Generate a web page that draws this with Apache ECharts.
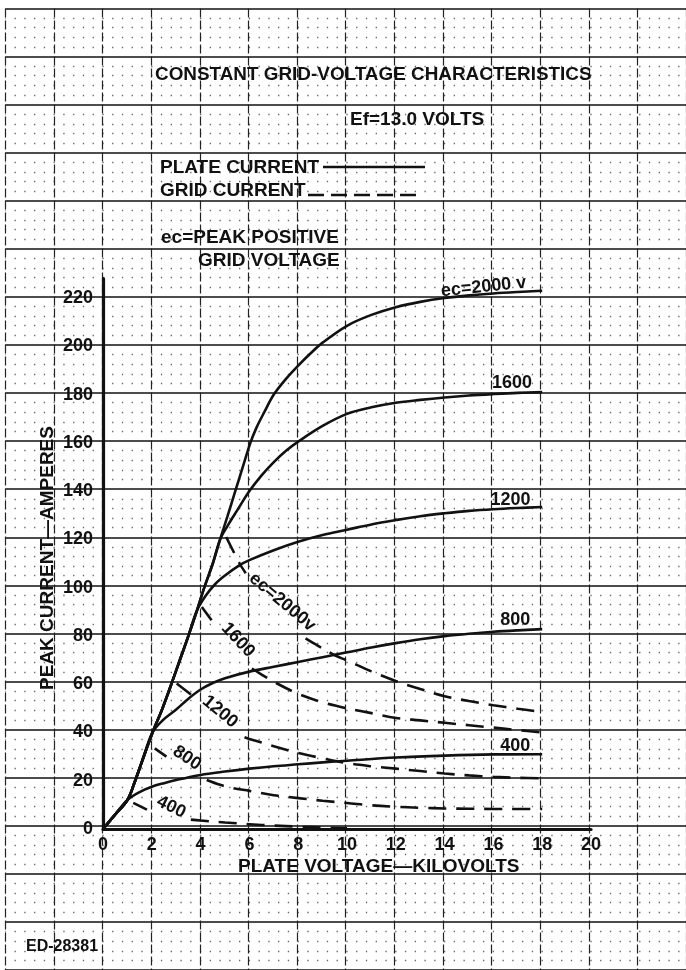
<!DOCTYPE html>
<html>
<head>
<meta charset="utf-8">
<title>Constant grid-voltage characteristics</title>
<script src="https://cdn.jsdelivr.net/npm/echarts@6/dist/echarts.min.js"></script>
<style>
  html, body { margin: 0; padding: 0; background: #fff; }
  #chart { width: 686px; height: 970px; }
</style>
</head>
<body>
<div id="chart"></div>
<script>
// tick labels shown on the two axes
const xTicks = [0, 2, 4, 6, 8, 10, 12, 14, 16, 18, 20];
const yTicks = [0, 20, 40, 60, 80, 100, 120, 140, 160, 180, 200, 220];

// plate current, [kV, A]
const plate400 = [[0,0],[0.5,6],[1,12],[1.5,15.3],[2,17.5],[2.5,19],[3,20.3],[4,22.4],[5,23.8],[6,25],[7,26],[8,26.8],[9,27.6],[10,28.3],[12,29.6],[14,30.4],[16,30.9],[18,31]];
const plate800 = [[0,0],[0.5,6],[1,12],[1.3,19.5],[1.6,28],[2.03,40],[2.5,45.5],[3,49.5],[3.5,54],[4,57.8],[4.5,60.5],[5,62.5],[6,65.2],[7,67.2],[8,69.2],[9,71.2],[10,73.2],[11,75.2],[12,77],[13,78.6],[14,79.9],[15,80.9],[16,81.7],[17,82.3],[18,82.8]];
const plate1200 = [[0,0],[0.5,6],[1,12],[1.3,19.5],[1.6,28],[2.03,40],[2.4,49],[2.8,60],[3.15,70],[3.5,80],[3.85,90.5],[4.2,96.5],[4.6,101.5],[5,105],[5.6,109.3],[6,111.4],[7,115.5],[8,119],[9,121.8],[10,124],[11,126.2],[12,128],[13,129.6],[14,130.8],[15,131.8],[16,132.5],[17,133],[18,133.4]];
const plate1600 = [[0,0],[0.5,6],[1,12],[1.3,19.5],[1.6,28],[2.03,40],[2.4,49],[2.8,60],[3.15,70],[3.5,80],[3.85,90.5],[4.15,100],[4.5,110],[4.8,120],[5.1,125.5],[5.5,132],[6,140],[6.5,146.5],[7,152],[7.5,156.7],[8,160.5],[9,167],[10,172],[11,174.7],[12,176.6],[13,177.8],[14,178.8],[15,179.6],[16,180.2],[17,180.7],[18,181]];
const plate2000 = [[0,0],[0.5,6],[1,12],[1.3,19.5],[1.6,28],[2.03,40],[2.4,49],[2.8,60],[3.15,70],[3.5,80],[3.85,90.5],[4.15,100],[4.5,110],[4.8,120],[5.1,129.5],[5.42,140],[5.73,150],[6.04,160],[6.3,166.5],[6.6,172.5],[7,180],[7.5,186.5],[8,192],[8.5,197],[9,201.5],[10,208.5],[11,213],[12,216.2],[13,218.4],[14,220],[15,221.1],[16,221.9],[17,222.5],[18,223]];

// grid current, null = break in the dashes where the label sits
const grid400 = [[1.24,10.8],[1.8,8],null,[3.6,3.9],[4,3.5],[5,2.7],[6,2],[7,1.4],[8,1],[9,0.6],[10,0.3]];
const grid800 = [[2.12,33.4],[2.6,30],null,[4.25,20.3],[4.8,18.3],[5.3,17],[6,15.8],[7,14],[8,12.8],[9,11.7],[10,10.8],[11,9.8],[12,9.2],[13,8.8],[14,8.5],[15,8.4],[16,8.3],[17,8.3],[18,8.3]];
const grid1200 = [[3.02,60.3],[3.63,55.5],null,[5.8,38],[6,37.3],[6.5,35.8],[7,34.3],[8,31.5],[9,29.3],[10,27.3],[11,26],[12,25],[13,24],[14,23],[15,22.2],[16,21.6],[17,21.2],[18,21]];
const grid1600 = [[4.05,92],[4.45,86.5],null,[6.1,66.5],[6.5,64],[7,61],[8,56],[9,52.5],[10,50],[11,48],[12,46],[13,45],[14,44],[15,43],[16,42],[17,41],[18,40]];
const grid2000 = [[5.05,121],[5.6,110],[5.85,106],null,[8.3,79],[8.8,76],[9.5,72],[10,69.8],[11,65.3],[12,61.3],[13,58],[14,55],[15,53],[16,51.3],[17,49.8],[18,48.5]];

// curve labels: text, anchor [kV, A], rotation in degrees
const curveLabels = [
  ['ec=2000 v', [15.6, 224.6], 6],
  ['1600', [16.76, 184.6], 0],
  ['1200', [16.7, 136.5], 0],
  ['800', [16.9, 86.6], 0],
  ['400', [16.9, 34.4], 0],
  ['ec=2000v', [7.35, 94], -40],
  ['1600', [5.53, 78.3], -47],
  ['1200', [4.8, 48.6], -40],
  ['800', [3.44, 29.4], -34],
  ['400', [2.79, 9.1], -26]
];

// sheet scale
const originX = 103, originY = 829;
const pxPerKv = 24.4, pxPerAmp = 2.4136;
const font = '"Liberation Sans", Arial, sans-serif';
const ink = '#111';

const chart = echarts.init(document.getElementById('chart'), null, { renderer: 'canvas' });

// break a list with nulls into pieces
function pieces(list) {
  const out = [[]];
  list.forEach(p => {
    if (p === null) out.push([]);
    else out[out.length - 1].push(p);
  });
  return out.filter(s => s.length > 1);
}

const series = [];
[plate400, plate800, plate1200, plate1600, plate2000].forEach(d => {
  series.push({
    type: 'line', xAxisIndex: 1, yAxisIndex: 1, data: d,
    showSymbol: false, smooth: 0.35, silent: true, z: 5,
    lineStyle: { color: ink, width: 2.6 }
  });
});
[grid400, grid800, grid1200, grid1600, grid2000].forEach(d => {
  pieces(d).forEach(seg => {
    series.push({
      type: 'line', xAxisIndex: 1, yAxisIndex: 1, data: seg,
      showSymbol: false, smooth: 0.35, silent: true, z: 5,
      lineStyle: { color: ink, width: 2.6, type: [18, 10] }
    });
  });
});
series.push({
  type: 'scatter', xAxisIndex: 1, yAxisIndex: 1, symbolSize: 1, silent: true, z: 6,
  itemStyle: { color: 'rgba(0,0,0,0)', opacity: 1 },
  data: curveLabels.map(l => ({ name: l[0], value: l[1], label: { rotate: l[2] } })),
  label: {
    show: true, position: 'inside', formatter: '{b}', opacity: 1,
    color: ink, textBorderWidth: 0, fontFamily: font, fontSize: 18, fontWeight: 'bold'
  }
});

function txt(text, x, y, size, extra) {
  return Object.assign({
    type: 'text', x: x, y: y, silent: true, z: 10,
    style: {
      text: text, fill: ink, fontFamily: font, fontSize: size, fontWeight: 'bold',
      textAlign: 'left', textVerticalAlign: 'middle'
    }
  }, extra || {});
}

const option = {
  animation: false,
  backgroundColor: '#fff',
  grid: [
    // graph paper behind everything
    { left: originX - 4 * pxPerKv, top: originY - 340 * pxPerAmp, width: 28 * pxPerKv, height: 400 * pxPerAmp },
    // the plotted area
    { left: originX, top: originY - 228 * pxPerAmp, width: 20 * pxPerKv, height: 228 * pxPerAmp }
  ],
  xAxis: [
    {
      gridIndex: 0, type: 'value', min: -4, max: 24, interval: 2,
      axisLine: { show: false }, axisTick: { show: false }, axisLabel: { show: false },
      splitLine: { show: true, lineStyle: { color: '#222', width: 1.2, type: [9, 3] } }
    },
    {
      gridIndex: 1, type: 'value', min: 0, max: 20, interval: 2,
      axisLine: { show: true, onZero: false, lineStyle: { color: ink, width: 3.2 } },
      axisTick: { show: false }, splitLine: { show: false },
      axisLabel: {
        margin: 7, color: ink, fontFamily: font, fontSize: 18, fontWeight: 'bold',
        formatter: v => (xTicks.includes(v) ? String(v) : '')
      }
    }
  ],
  yAxis: [
    {
      gridIndex: 0, type: 'value', min: -60, max: 340, interval: 20,
      axisLine: { show: false }, axisTick: { show: false }, axisLabel: { show: false },
      splitLine: { show: true, lineStyle: { color: '#111', width: 1.6 } },
      minorTick: { show: false, splitNumber: 5 },
      minorSplitLine: { show: true, lineStyle: { color: '#666', width: 1.3, type: [1.3, 8.46], dashOffset: 0.65 } }
    },
    {
      gridIndex: 1, type: 'value', min: 0, max: 228, interval: 20,
      axisLine: { show: true, onZero: false, lineStyle: { color: ink, width: 3.2 } },
      axisTick: { show: false }, splitLine: { show: false },
      axisLabel: {
        margin: 10, color: ink, fontFamily: font, fontSize: 18, fontWeight: 'bold',
        formatter: v => (yTicks.includes(v) ? String(v) : '')
      }
    }
  ],
  graphic: [
    txt('CONSTANT GRID-VOLTAGE CHARACTERISTICS', 155, 74.5, 18.9),
    txt('Ef=13.0 VOLTS', 350, 120, 19),
    txt('PLATE CURRENT', 160, 167.5, 19),
    txt('GRID CURRENT', 160, 190.5, 19),
    txt('ec=PEAK POSITIVE', 161, 237.5, 19),
    txt('GRID VOLTAGE', 198, 260.5, 19),
    txt('PLATE VOLTAGE—KILOVOLTS', 238, 867, 19),
    txt('ED-28381', 26, 947, 16),
    txt('PEAK CURRENT—AMPERES', 47.5, 558, 19, { rotation: Math.PI / 2 }),
    {
      type: 'line', silent: true, z: 10,
      shape: { x1: 323, y1: 167, x2: 425, y2: 167 },
      style: { stroke: ink, lineWidth: 2.5 }
    },
    {
      type: 'line', silent: true, z: 10,
      shape: { x1: 308, y1: 195, x2: 420, y2: 195 },
      style: { stroke: ink, lineWidth: 2.5, lineDash: [16, 7] }
    }
  ],
  series: series
};

// the rotated axis name is centred on its point
option.graphic[8].style.textAlign = 'center';

chart.setOption(option);
</script>
</body>
</html>
